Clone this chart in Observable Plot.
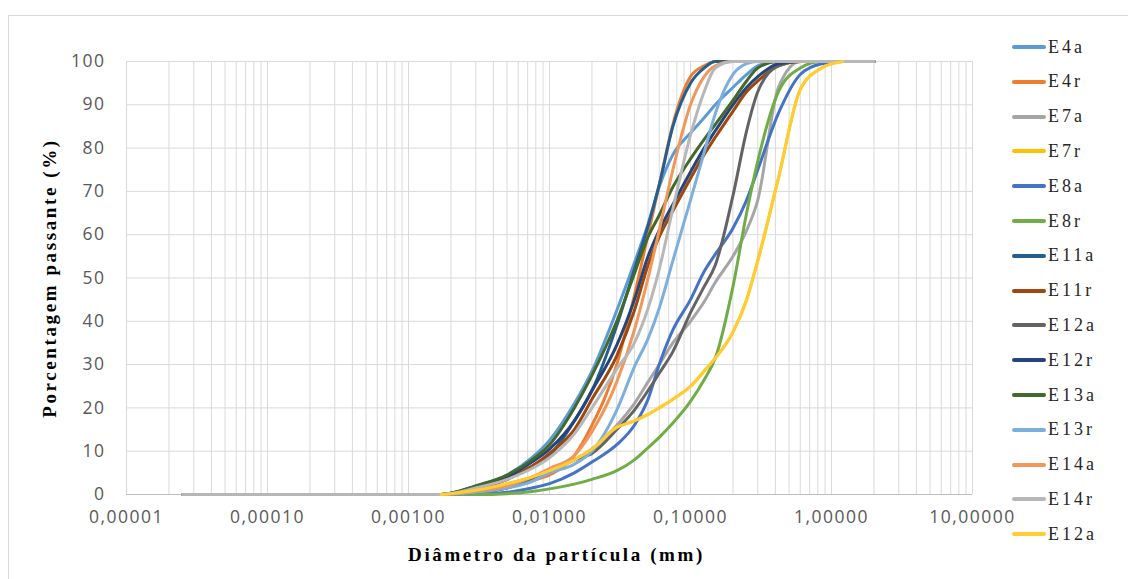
<!DOCTYPE html>
<html>
<head>
<meta charset="utf-8">
<script src="https://cdn.jsdelivr.net/npm/d3@7"></script>
<script src="https://cdn.jsdelivr.net/npm/@observablehq/plot@0.6"></script>
<style>
  body { margin: 0; background: #fff; }
  #chart { position: relative; width: 1128px; height: 579px; overflow: hidden; }
  #frame { position: absolute; left: 8px; top: 15px; width: 1140px; height: 600px; border: 1px solid #d9d9d9; box-sizing: border-box; }
  #chart svg { position: absolute; left: 0; top: 0; }
  #legend { position: absolute; left: 0; top: 0; }
  .item { position: absolute; display: flex; align-items: center; height: 24px; }
  .swatch { width: 34px; height: 4px; border-radius: 2px; }
  .name { font-family: "Liberation Serif", serif; font-size: 18px; letter-spacing: 3px; color: #262626; margin-left: 2px; }
  g[aria-label="x-axis tick label"] text,
  g[aria-label="y-axis tick label"] text { letter-spacing: 1.5px; }
</style>
</head>
<body>
<div id="chart"><div id="frame"></div><div id="legend"></div></div>
<script>
// Particle diameters (mm) at which the passing percentages were read
const diameters = [0.000025, 0.0017, 0.003, 0.005, 0.0075, 0.01, 0.015, 0.02, 0.03, 0.04, 0.05, 0.06,
                   0.075, 0.1, 0.125, 0.15, 0.2, 0.25, 0.3, 0.42, 0.6, 0.85, 1.2, 2.0];

// Percentage passing for each sample, aligned with `diameters` (null = no reading)
const E4a  = [0, 0, 2, 4.5, 8.5, 12.5, 21, 28.5, 42.5, 53.5, 62.5, 71, 78.5, 83.5, 87, 90, 94, 97, 99, 100, 100, 100, 100, 100];
const E4r  = [0, 0, 0.8, 2, 3.2, 4.5, 9, 16, 30, 46, 60, 71.5, 85.5, 96.5, 99, 100, 100, 100, 100, 100, 100, 100, 100, 100];
const E7a  = [0, 0, 0.5, 1.5, 3.5, 5.5, 8, 10.5, 16, 21, 26, 30, 35, 40, 44.5, 49, 55, 61, 68, 94, 100, 100, 100, 100];
const E7r  = [0, 0, 1, 2.5, 4, 5.5, 8, 10.5, 15.5, 17, 18.5, 20, 22, 25, 28.5, 31.5, 37.5, 45, 54, 73, 93.5, 98.5, 100, 100];
const E8a  = [0, 0, 0, 0.5, 1.5, 2.5, 5, 7.5, 11.5, 16, 22, 30, 38, 45, 51.5, 55.5, 61.5, 68, 75, 88, 97, 99.5, 100, 100];
const E8r  = [0, 0, 0, 0.2, 0.7, 1.3, 2.4, 3.5, 5.5, 8, 10.8, 13.2, 16.5, 21.5, 26.5, 31.5, 48, 65, 77, 93, 98.5, 100, 100, 100];
const E11a = [0, 0, 1.5, 3.5, 6.5, 9, 17, 24, 39, 52, 62, 71.5, 85, 95, 98.5, 100, 100, 100, 100, 100, 100, 100, 100, 100];
const E11r = [0, 0, 1.5, 3.5, 6.5, 9.5, 15, 22, 32, 42.5, 53, 59.5, 65.5, 73, 78.5, 82.5, 88.5, 93, 95.5, 99, 100, 100, 100, 100];
const E12a = [0, 0, 0.5, 1.5, 3.5, 5.5, 8, 9.5, 15, 19.5, 24, 28, 33, 42, 48, 53, 69, 84, 93, 99, 100, 100, 100, 100];
const E12r = [0, 0, 1.8, 4, 7.5, 10.5, 17, 24, 34.5, 45, 55, 61, 67, 74.5, 80, 84, 90, 94, 96.5, 99.5, 100, 100, 100, 100];
const E13a = [0, 0, 2, 4.5, 8, 11.5, 20, 27.5, 40, 51, 59.5, 64.5, 71, 77.5, 82, 85.5, 91, 95.5, 98.5, 100, 100, 100, 100, 100];
const E13r = [0, 0, 0.5, 1.5, 3, 5, 7, 10, 19.5, 29.5, 36, 43, 54, 68, 79, 88, 97, 99.5, 100, 100, 100, 100, 100, 100];
const E14a = [0, 0, 0.8, 2, 4, 6, 9, 14.5, 26, 38, 50, 61, 75, 90, 96.5, 99, 100, 100, 100, 100, 100, 100, 100, 100];
const E14r = [0, 0, 1.5, 3.5, 6, 8.5, 14, 20, 29, 35, 43, 52, 66, 83, 93, 98.5, 100, 100, 100, 100, 100, 100, 100, 100];
const E12aB = [null, 0, 1, 2.5, 4, 5.5, 8, 10.5, 15.5, 17, 18.5, 20, 22, 25, 28.5, 31.5, 37.5, 45, 54, 73, 93.5, 98.5, 100, null];

const seriesNames  = ["E4a", "E4r", "E7a", "E7r", "E8a", "E8r", "E11a", "E11r", "E12a", "E12r", "E13a", "E13r", "E14a", "E14r", "E12a"];
const seriesValues = [E4a, E4r, E7a, E7r, E8a, E8r, E11a, E11r, E12a, E12r, E13a, E13r, E14a, E14r, E12aB];
const seriesColors = ["#5b9bd5", "#ed7d31", "#a5a5a5", "#ffc000", "#4472c4", "#70ad47", "#255e91", "#9e480e",
                      "#636363", "#264478", "#43682b", "#7cafdd", "#f1975a", "#b7b7b7", "#ffcd33"];

const xTicks = [0.00001, 0.0001, 0.001, 0.01, 0.1, 1, 10];
const yTicks = [0, 10, 20, 30, 40, 50, 60, 70, 80, 90, 100];

// Long-format table: one row per reading
const rows = seriesValues.flatMap((vals, i) =>
  vals.map((p, j) => ({s: i, d: diameters[j], p})).filter(r => r.p != null));

// Log grid: every integer multiple within each decade
const xGrid = xTicks.slice(0, -1).flatMap(t => d3.range(1, 10).map(k => t * k)).concat([10]);

const fmtX = d => d.toFixed(5).replace(".", ",");

const svg = Plot.plot({
  width: 1128,
  height: 579,
  marginLeft: 126,
  marginRight: 156,
  marginTop: 61,
  marginBottom: 85,
  style: {fontFamily: "'Open Sans', sans-serif", background: "transparent"},
  x: {type: "log", domain: [1e-5, 10]},
  y: {domain: [0, 100]},
  color: {domain: d3.range(seriesNames.length), range: seriesColors},
  marks: [
    Plot.gridX(xGrid, {stroke: "#d9d9d9", strokeOpacity: 1, strokeWidth: 1}),
    Plot.gridY(yTicks, {stroke: "#d9d9d9", strokeOpacity: 1, strokeWidth: 1}),
    Plot.ruleY([0], {stroke: "#bfbfbf", strokeWidth: 1}),
    Plot.axisX(xTicks, {tickSize: 0, tickPadding: 16, tickFormat: fmtX, fontSize: 17.5, fill: "#595959", label: null}),
    Plot.axisY(yTicks, {tickSize: 0, tickPadding: 21, fontSize: 17.5, fill: "#595959", label: null}),
    Plot.line(rows, {x: "d", y: "p", z: "s", stroke: "s", strokeWidth: 3, curve: "monotone-x",
                     strokeLinecap: "round", strokeLinejoin: "round"}),
    Plot.text(["Diâmetro da partícula (mm)"], {frameAnchor: "bottom", dx: 7, dy: 66, fontSize: 19, fontWeight: "bold",
                     fontFamily: "'Liberation Serif', serif", fill: "#000"}),
    Plot.text(["Porcentagem passante (%)"], {frameAnchor: "left", textAnchor: "middle", dx: -77, rotate: -90,
                     fontSize: 19, fontWeight: "bold", fontFamily: "'Liberation Serif', serif", fill: "#000"})
  ]
});

d3.select(svg).selectAll('g[aria-label="text"] text').style("letter-spacing", "2.6px");
document.getElementById("chart").appendChild(svg);

// Legend on the right: one swatch and name per sample
const legend = d3.select("#legend");
seriesNames.forEach((name, i) => {
  const item = legend.append("div").attr("class", "item")
    .style("left", "1012px").style("top", (47 + i * 34.8 - 12) + "px");
  item.append("span").attr("class", "swatch").style("background", seriesColors[i]);
  item.append("span").attr("class", "name").text(name);
});
</script>
</body>
</html>
